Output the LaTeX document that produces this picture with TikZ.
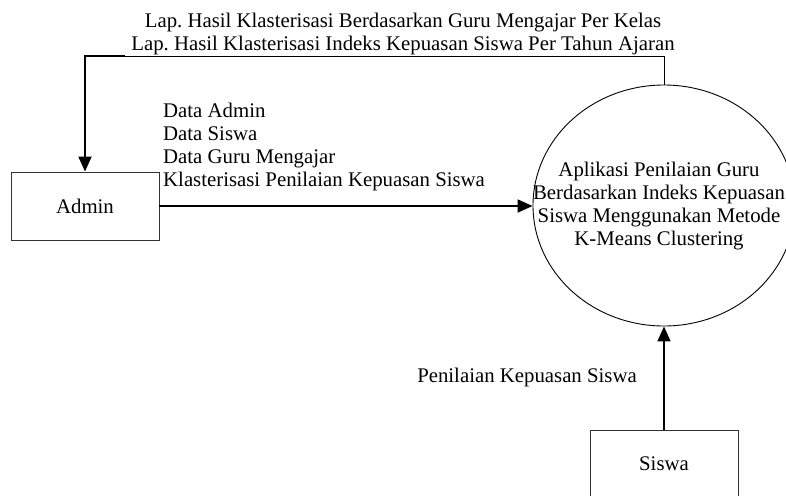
\documentclass[tikz,border=0pt]{standalone}
\usepackage{fontspec}
\setmainfont{Liberation Serif}
\usetikzlibrary{arrows.meta,shapes.geometric}
\frenchspacing
\begin{document}
\begin{tikzpicture}[x=1pt,y=-1pt,
  lbl/.style={font=\fontsize{20.8}{22.7}\selectfont, inner sep=0pt},
  entity/.style={draw=black!80, line width=0.9pt, minimum width=148pt, minimum height=68pt, inner sep=0pt, font=\fontsize{20.8}{22.7}\selectfont},
  process/.style={draw=black, line width=0.9pt, ellipse, minimum width=262pt, minimum height=241pt, inner sep=0pt},
  flow/.style={line width=1.8pt, -{Triangle[length=15pt,width=13pt]}},
  flowthin/.style={line width=0.9pt}]
  \useasboundingbox (0,0) rectangle (786,495);

  % external entities and the process
  \node[entity] (admin) at (85,206) {Admin};
  \node[entity] (siswa) at (664,464) {Siswa};
  \node[process] (proc) at (664,205.5) {};
  \node[lbl, align=center] (proctext) at (659,206)
    {Aplikasi Penilaian Guru\\Berdasarkan Indeks Kepuasan\\Siswa Menggunakan Metode\\K-Means Clustering};

  % report flow back to the admin
  \coordinate (lk) at (125,56);
  \draw[flowthin] (proc.north) |- (lk);
  \draw[flow] (lk) -| (admin.north);
  \node[lbl, align=center] (rpt) at (403,34)
    {Lap. Hasil Klasterisasi Berdasarkan Guru Mengajar Per Kelas\\Lap. Hasil Klasterisasi Indeks Kepuasan Siswa Per Tahun Ajaran};

  % admin input flow
  \draw[flow] (admin.east) -- (admin.east -| proc.west);
  \node[lbl, align=left, anchor=west] (din) at (163,147)
    {Data Admin\\Data Siswa\\Data Guru Mengajar\\Klasterisasi Penilaian Kepuasan Siswa};

  % student input flow
  \draw[flow] (siswa.north) -- (proc.south);
  \node[lbl] (sin) at (527,377) {Penilaian Kepuasan Siswa};
\end{tikzpicture}
\end{document}
